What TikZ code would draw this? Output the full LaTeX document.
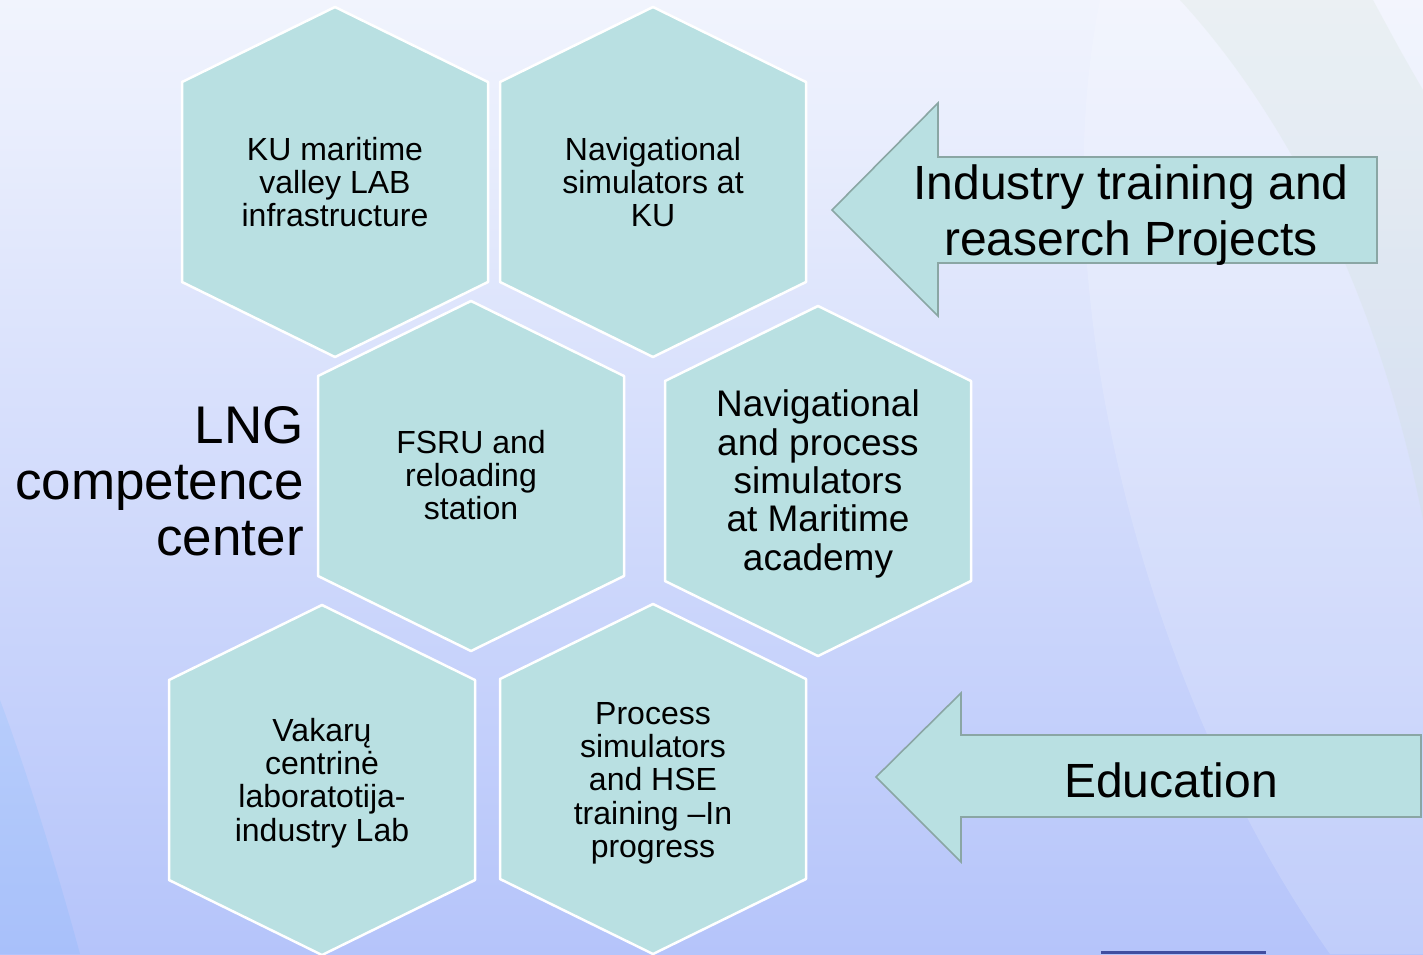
\documentclass[tikz,border=0pt]{standalone}
\usepackage{fontspec}
\setmainfont{Liberation Sans}
\usetikzlibrary{positioning}

\definecolor{hexfill}{RGB}{185,224,226}
\definecolor{arrowline}{RGB}{138,166,164}
\definecolor{bgtop}{RGB}{241,244,253}
\definecolor{bgbottom}{RGB}{181,196,250}
\definecolor{logoblue}{RGB}{64,78,160}
\definecolor{swoosh}{RGB}{200,220,200}

\tikzset{
    hexa/.pic={\draw [hexcell] (0,-175) -- (153,-100) -- (153,100) -- (0,175) -- (-153,100) -- (-153,-100) -- cycle;},
}

\begin{document}
\begin{tikzpicture}[line cap=round,line join=round,x=1pt,y=-1pt,
    hexcell/.style={fill=hexfill,draw=white,line width=2.5pt},
    bigarrow/.style={fill=hexfill,draw=arrowline,line width=1.6pt,line join=miter},
    small/.style={align=center,inner sep=0pt,font=\fontsize{32}{33.3}\selectfont},
    large/.style={align=center,inner sep=0pt,font=\fontsize{37}{38.3}\selectfont},
    huge/.style={align=center,inner sep=0pt,font=\fontsize{48}{56}\selectfont}]
                \useasboundingbox (0,0) rectangle (1423,954);
                % background
                \shade [top color=bgtop,bottom color=bgbottom] (0,0) rectangle (1423,954);
                \fill [white,opacity=0.16] (1100,0) .. controls (1040,300) and (1150,700) .. (1330,954) -- (1423,954) -- (1423,0) -- cycle;
                \fill [swoosh,opacity=0.18] (1180,0) .. controls (1290,120) and (1380,300) .. (1423,520) -- (1423,90) .. controls (1400,50) .. (1373,0) -- cycle;
                \fill [blue!40!cyan,opacity=0.07] (0,700) .. controls (30,780) and (60,880) .. (80,954) -- (0,954) -- cycle;
                \fill [logoblue] (1101,951) rectangle (1266,954);
                % hexagons
                \pic at (335,182) {hexa};
                \pic at (653,182) {hexa};
                \pic at (471,476) {hexa};
                \pic at (818,481) {hexa};
                \pic at (322,780) {hexa};
                \pic at (653,779) {hexa};
                \node [small] (kulab) at (335,182) {KU maritime\\valley LAB\\infrastructure};
                \node [small] (kusim) at (653,182) {Navigational\\simulators at\\KU};
                \node [small] (fsru) at (471,475) {FSRU and\\reloading\\station};
                \node [large] (academy) at (818,484) {Navigational\\and process\\simulators\\at Maritime\\academy};
                \node [small] (vakaru) at (322,783) {Vakarų\\centrinė\\laboratotija-\\industry Lab};
                \node [small] (hse) at (653,783) {Process\\simulators\\and HSE\\training –In\\progress};
                % title
                \node [anchor=east,align=right,inner sep=0pt,font=\fontsize{53}{56}\selectfont] (lng) at (304,481) {LNG\\competence\\center};
                % arrows
                \draw [bigarrow] (832,210) -- (938,103) -- (938,157) -- (1377,157) -- (1377,263) -- (938,263) -- (938,316) -- cycle;
                \node [huge] (industry) at (1131,215) {Industry training and\\reaserch Projects};
                \draw [bigarrow] (876,777) -- (961,693) -- (961,735) -- (1421,735) -- (1421,817) -- (961,817) -- (961,862) -- cycle;
                \node [huge] (education) at (1171,780) {Education};
            \end{tikzpicture}
\end{document}
